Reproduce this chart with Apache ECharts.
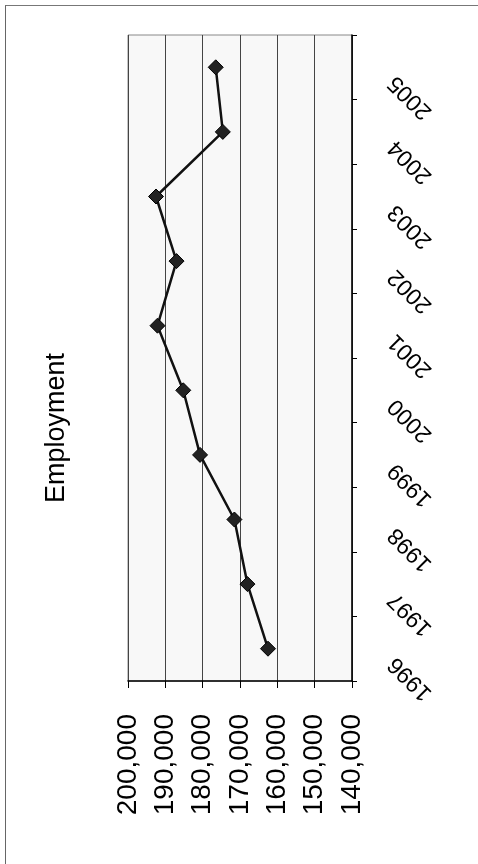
<!DOCTYPE html>
<html>
<head>
<meta charset="utf-8">
<script src="https://cdn.jsdelivr.net/npm/echarts@6/dist/echarts.min.js"></script>
<style>
    html, body { margin: 0; padding: 0; background: #fff; }
    #frame {
        position: absolute; left: 5px; top: 5px; right: 0; bottom: 0;
        border-left: 1px solid #666; border-top: 1px solid #777;
    }
    #chart { position: absolute; left: 0; top: 0; width: 478px; height: 864px; }
</style>
</head>
<body>
<div id="frame"></div>
<div id="chart"></div>
<script>
// years, bottom to top
const years = ['1996', '1997', '1998', '1999', '2000', '2001', '2002', '2003', '2004', '2005'];
// employment
const employment = [162500, 168000, 171500, 180700, 185200, 192100, 187000, 192500, 174600, 176500];
// value axis range
const valueMin = 140000;
const valueMax = 200000;
const valueStep = 10000;

const chart = echarts.init(document.getElementById('chart'));

chart.setOption({
    animation: false,
    textStyle: { fontFamily: 'Liberation Sans, Arial, sans-serif' },
    graphic: [{
        type: 'text',
        x: 57,
        y: 428,
        rotation: Math.PI / 2,
        style: {
            text: 'Employment',
            font: '27px Liberation Sans, Arial, sans-serif',
            fill: '#000',
            align: 'center',
            verticalAlign: 'middle'
        }
    }],
    grid: {
        left: 128, right: 126, top: 35, bottom: 183,
        show: true,
        backgroundColor: '#f8f8f8',
        borderColor: '#888',
        borderWidth: 1
    },
    xAxis: {
        type: 'value',
        min: valueMin,
        max: valueMax,
        interval: valueStep,
        inverse: true,
        position: 'bottom',
        axisLine: { show: true, lineStyle: { color: '#000', width: 1.5 } },
        axisTick: { show: true, length: 7, lineStyle: { color: '#000' } },
        splitLine: { show: true, lineStyle: { color: '#444', width: 1 } },
        axisLabel: {
            rotate: 90,
            margin: 33,
            fontSize: 28,
            color: '#000',
            formatter: v => v.toLocaleString('en-US')
        }
    },
    yAxis: {
        type: 'category',
        data: years,
        position: 'right',
        boundaryGap: true,
        axisLine: { show: true, lineStyle: { color: '#000', width: 1.5 } },
        axisTick: { show: true, length: 5, lineStyle: { color: '#000' } },
        splitLine: { show: false },
        axisLabel: {
            rotate: 135,
            margin: 28,
            padding: [0, 17, 0, 0],
            fontSize: 23,
            color: '#000'
        }
    },
    series: [{
        type: 'line',
        data: employment,
        symbol: 'diamond',
        symbolSize: 15,
        lineStyle: { color: '#111', width: 2.5 },
        itemStyle: { color: '#222', borderColor: '#000', borderWidth: 1 }
    }]
});
</script>
</body>
</html>
